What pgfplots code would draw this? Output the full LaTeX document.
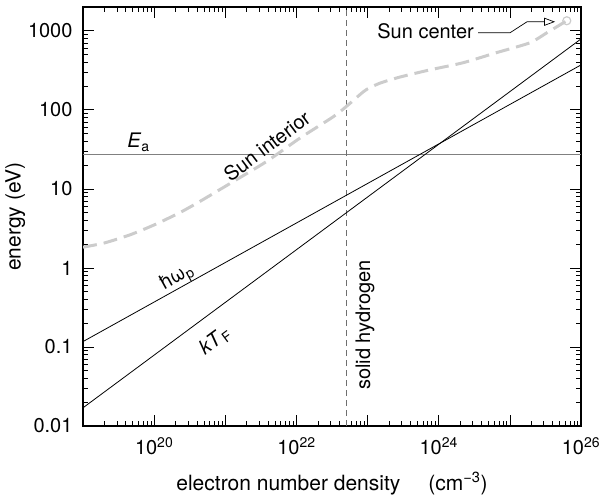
\documentclass[border=0pt]{standalone}
\usepackage{fontspec}
\setmainfont{TeX Gyre Heros}
\usepackage{pgfplots}
\pgfplotsset{compat=1.18}
\usetikzlibrary{arrows.meta}
\definecolor{sungray}{HTML}{CCCCCC}
\definecolor{eagray}{HTML}{808080}
\definecolor{hgray}{HTML}{6E6E6E}
\pgfplotstableread{
x y
1e19 1.83
2e19 2.07
4.57e19 2.62
1e20 3.5
2.29e20 5.0
4.47e20 7.0
1.26e21 12.2
3.80e21 22.2
1.12e22 43.9
3.31e22 82
5.13e22 112
7.76e22 155
9.77e22 182
1.50e23 218
2.86e23 260
7.59e23 321
2.19e24 394
6.31e24 525
1.91e25 705
3.31e25 944
6.31e25 1340
}\suntable
\begin{document}
\begin{tikzpicture}
\begin{axis}[
  scale only axis,
  width=498pt, height=419pt,
  xmode=log, ymode=log,
  xmin=1e19, xmax=1e26, ymin=0.01, ymax=2000,
  axis line style={line width=1.1pt},
  tick align=inside,
  major tick length=11pt, minor tick length=5pt,
  every tick/.style={black, line width=0.7pt},
  xtick={1e19,1e20,1e21,1e22,1e23,1e24,1e25,1e26},
  xticklabels={,10\textsuperscript{20},,10\textsuperscript{22},,10\textsuperscript{24},,10\textsuperscript{26}},
  ytick={0.01,0.1,1,10,100,1000},
  yticklabels={0.01,0.1,1,10,100,1000},
  ticklabel style={font=\fontsize{20}{24}\selectfont},
  yticklabel style={xshift=-7pt},
  xticklabel style={yshift=-8pt},
  xlabel={electron number density\hspace{28pt}(cm\textsuperscript{\textminus 3})},
  ylabel={energy (eV)},
  label style={font=\fontsize{21}{25}\selectfont},
  xlabel style={yshift=-10pt},
  ylabel style={yshift=-4pt},
]
\addplot[eagray, line width=1.2pt] coordinates {(1e19,27.2) (1e26,27.2)};
\addplot[hgray, line width=0.9pt, dash pattern=on 6pt off 4pt] coordinates {(5.1e22,0.01) (5.1e22,2000)};
\addplot[sungray, line width=3pt, dash pattern=on 14pt off 7pt, smooth, tension=0.4] table[x=x,y=y] {\suntable};
\addplot[only marks, mark=o, mark size=4pt, sungray, line width=1.2pt] coordinates {(6.31e25,1340)};
\addplot[black, line width=0.8pt] coordinates {(1e19,0.117) (1e26,370)};
\addplot[black, line width=0.8pt] coordinates {(1e19,0.017) (1e26,789)};
\draw[black, line width=0.7pt, -{Triangle[open,length=11pt,width=8pt]}]
  (axis cs:3.57e24,944) -- (axis cs:1.005e25,944) -- (axis cs:1.74e25,1300) -- (axis cs:4.32e25,1300);
\node[anchor=east, font=\fontsize{20}{24}\selectfont, inner sep=0pt] at (axis cs:3.13e24,1000) {Sun center};
\node[anchor=base west, font=\fontsize{20}{24}\selectfont, inner sep=0pt] at (axis cs:4.17e19,33) {\textit{E}\textsubscript{a}};
\node[rotate=37, font=\fontsize{20}{24}\selectfont, inner sep=0pt] at (axis cs:3.85e21,35) {Sun interior};
\node[rotate=29, font=\fontsize{20}{24}\selectfont, inner sep=0pt] at (axis cs:2.09e20,0.746) {ħω\textsubscript{p}};
\node[rotate=36.5, font=\fontsize{20}{24}\selectfont, inner sep=0pt] at (axis cs:7.18e20,0.119) {\textit{kT}\textsubscript{F}};
\node[rotate=90, font=\fontsize{20}{24}\selectfont, inner sep=0pt] at (axis cs:9.2e22,0.19) {solid hydrogen};
\end{axis}
\pgfresetboundingbox
\path (current axis.south west) ++(-83pt,-72pt) rectangle ++(603pt,498pt);
\end{tikzpicture}
\end{document}
